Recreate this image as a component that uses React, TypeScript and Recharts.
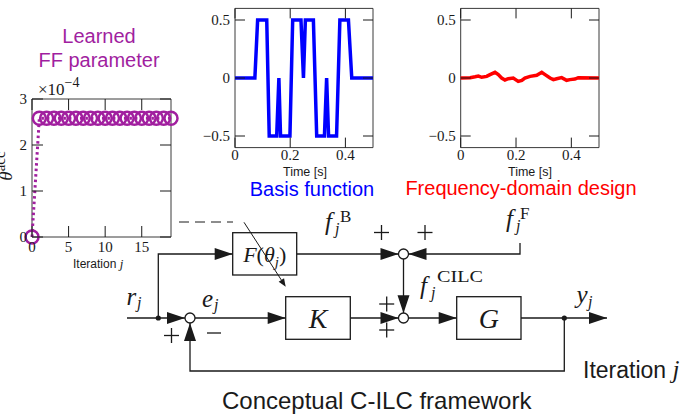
import React from 'react';
import { LineChart, Line, XAxis, YAxis, ReferenceArea } from 'recharts';

// learned feedforward parameter per iteration
const ITERATIONS = [0, 1, 2, 3, 4, 5, 6, 7, 8, 9, 10, 11, 12, 13, 14, 15, 16, 17, 18, 19];
const THETA_ACC = [
  0, 2.58e-4, 2.58e-4, 2.58e-4, 2.58e-4, 2.58e-4, 2.58e-4, 2.58e-4, 2.58e-4, 2.58e-4,
  2.58e-4, 2.58e-4, 2.58e-4, 2.58e-4, 2.58e-4, 2.58e-4, 2.58e-4, 2.58e-4, 2.58e-4, 2.58e-4,
];
const ITER_TICKS = [0, 5, 10, 15];
const THETA_TICKS = [0, 1e-4, 2e-4, 3e-4];

// basis function (time [s], amplitude)
const BASIS_TIME = [
  0, 0.072, 0.082, 0.115, 0.124, 0.151, 0.159, 0.165, 0.199, 0.209, 0.239, 0.248,
  0.255, 0.284, 0.296, 0.324, 0.332, 0.339, 0.368, 0.38, 0.411, 0.423, 0.5,
];
const BASIS_VALUE = [
  0, 0, 0.5, 0.5, -0.5, -0.5, 0, -0.5, -0.5, 0.5, 0.5, 0,
  0.5, 0.5, -0.5, -0.5, 0, -0.5, -0.5, 0.5, 0.5, 0, 0,
];

// frequency-domain design feedforward signal
const FREQ_TIME = [
  0, 0.034, 0.052, 0.064, 0.076, 0.094, 0.106, 0.124, 0.136, 0.148, 0.16, 0.172,
  0.19, 0.208, 0.221, 0.232, 0.251, 0.275, 0.293, 0.305, 0.323, 0.335, 0.347,
  0.365, 0.383, 0.395, 0.413, 0.425, 0.5,
];
const FREQ_VALUE = [
  0, 0.003, 0.011, 0.017, 0.006, 0.014, 0.029, 0.049, 0.029, 0, -0.017, -0.006,
  0, -0.029, -0.02, 0, 0.014, 0.023, 0.049, 0.029, 0, -0.014, -0.006,
  0.003, -0.02, -0.014, -0.009, 0.003, 0,
];

const TIME_TICKS = [0, 0.2, 0.4];
const AMP_TICKS = [-0.5, 0, 0.5];

const ffData = ITERATIONS.map((j, i) => ({ j, theta: THETA_ACC[i] }));
const basisData = BASIS_TIME.map((t, i) => ({ t, v: BASIS_VALUE[i] }));
const freqData = FREQ_TIME.map((t, i) => ({ t, v: FREQ_VALUE[i] }));

const INK = '#1a1a1a';
const FRAME = '#3a3a3a';
const PURPLE = '#a11f9f';
const BLUE = '#0000ff';
const RED = '#ff0000';
const SERIF = '"Liberation Serif", "Times New Roman", serif';
const SANS = '"Liberation Sans", Arial, Helvetica, sans-serif';

type Box = {
  left: number;
  top: number;
  width: number;
  height: number;
  px0: number;
  px1: number;
  py0: number;
  py1: number;
};

const FF_BOX: Box = { left: 0, top: 80, width: 200, height: 200, px0: 32, px1: 171, py0: 99, py1: 237 };
const BASIS_BOX: Box = { left: 190, top: 0, width: 200, height: 200, px0: 235, px1: 373, py0: 8.4, py1: 147.6 };
const FREQ_BOX: Box = { left: 400, top: 0, width: 250, height: 200, px0: 460.7, px1: 599, py0: 8.4, py1: 147.6 };

const AXIS_SPACE = 20;

function marginsOf(b: Box) {
  return {
    left: b.px0 - b.left - AXIS_SPACE,
    right: b.left + b.width - b.px1,
    top: b.py0 - b.top,
    bottom: b.top + b.height - b.py1 - AXIS_SPACE,
  };
}

const fmtAmp = (v: number) => (v === 0 ? '0' : (v < 0 ? '\u2212' : '') + String(Math.abs(v)));
const fmtTheta = (v: number) => String(Math.round(v * 1e4));
const fmtPlain = (v: number) => String(v);

function xTick(b: Box, len: number, fmt: (v: number) => string, dy: number) {
  const top = b.py0 - b.top;
  const bottom = b.py1 - b.top;
  return (props: any) => {
    const x = props.x;
    return (
      <g>
        <line x1={x} x2={x} y1={bottom} y2={bottom - len} stroke={INK} strokeWidth={1} />
        <line x1={x} x2={x} y1={top} y2={top + len} stroke={INK} strokeWidth={1} />
        <text x={x} y={bottom + dy} textAnchor="middle" fontFamily={SERIF} fontSize={15} fill={INK}>
          {fmt(props.payload.value)}
        </text>
      </g>
    );
  };
}

function yTick(b: Box, len: number, fmt: (v: number) => string) {
  const left = b.px0 - b.left;
  const right = b.px1 - b.left;
  return (props: any) => {
    const y = props.y;
    return (
      <g>
        <line x1={left} x2={left + len} y1={y} y2={y} stroke={INK} strokeWidth={1} />
        <line x1={right} x2={right - len} y1={y} y2={y} stroke={INK} strokeWidth={1} />
        <text x={left - 5} y={y + 5} textAnchor="end" fontFamily={SERIF} fontSize={15} fill={INK}>
          {fmt(props.payload.value)}
        </text>
      </g>
    );
  };
}

function SignalPanel({ box, data, color }: { box: Box; data: { t: number; v: number }[]; color: string }) {
  return (
    <div style={{ position: 'absolute', left: box.left, top: box.top }}>
      <LineChart width={box.width} height={box.height} data={data} margin={marginsOf(box)}>
        <XAxis
          dataKey="t"
          type="number"
          domain={[0, 0.5]}
          ticks={TIME_TICKS}
          interval={0}
          height={AXIS_SPACE}
          tickSize={0}
          tickLine={false}
          axisLine={false}
          tick={xTick(box, 10, fmtPlain, 12.5)}
        />
        <YAxis
          type="number"
          domain={[-0.6, 0.6]}
          ticks={AMP_TICKS}
          interval={0}
          width={AXIS_SPACE}
          tickSize={0}
          tickLine={false}
          axisLine={false}
          tick={yTick(box, 10, fmtAmp)}
        />
        <ReferenceArea x1={0} x2={0.5} y1={-0.6} y2={0.6} fill="none" stroke={FRAME} strokeWidth={1} />
        <Line
          dataKey="v"
          type="linear"
          stroke={color}
          strokeWidth={3.5}
          dot={false}
          isAnimationActive={false}
        />
      </LineChart>
    </div>
  );
}

function FFPanel() {
  const box = FF_BOX;
  return (
    <div style={{ position: 'absolute', left: box.left, top: box.top }}>
      <LineChart width={box.width} height={box.height} data={ffData} margin={marginsOf(box)}>
        <XAxis
          dataKey="j"
          type="number"
          domain={[0, 19]}
          ticks={ITER_TICKS}
          interval={0}
          height={AXIS_SPACE}
          tickSize={0}
          tickLine={false}
          axisLine={false}
          tick={xTick(box, 11, fmtPlain, 14.5)}
        />
        <YAxis
          type="number"
          domain={[0, 3e-4]}
          ticks={THETA_TICKS}
          interval={0}
          width={AXIS_SPACE}
          tickSize={0}
          tickLine={false}
          axisLine={false}
          tick={yTick(box, 11, fmtTheta)}
        />
        <ReferenceArea x1={0} x2={19} y1={0} y2={3e-4} fill="none" stroke={FRAME} strokeWidth={1} />
        <Line
          dataKey="theta"
          type="linear"
          stroke={PURPLE}
          strokeWidth={3}
          strokeDasharray="2.5 3"
          dot={{ r: 6.5, stroke: PURPLE, strokeWidth: 2.5, fill: 'none', strokeDasharray: '' }}
          isAnimationActive={false}
        />
      </LineChart>
    </div>
  );
}

type Dir = 'r' | 'l' | 'u' | 'd';

function Head({ x, y, dir, len = 18, half = 6 }: { x: number; y: number; dir: Dir; len?: number; half?: number }) {
  let pts = '';
  if (dir === 'r') pts = `${x},${y} ${x - len},${y - half} ${x - len},${y + half}`;
  if (dir === 'l') pts = `${x},${y} ${x + len},${y - half} ${x + len},${y + half}`;
  if (dir === 'd') pts = `${x},${y} ${x - half},${y - len} ${x + half},${y - len}`;
  if (dir === 'u') pts = `${x},${y} ${x - half},${y + len} ${x + half},${y + len}`;
  return <polygon points={pts} fill={INK} />;
}

function Plus({ x, y, s = 7.5 }: { x: number; y: number; s?: number }) {
  return (
    <g stroke={INK} strokeWidth={1.3}>
      <line x1={x - s} x2={x + s} y1={y} y2={y} />
      <line x1={x} x2={x} y1={y - s} y2={y + s} />
    </g>
  );
}

function Diagram() {
  const sw = 1.3;
  // diagonal "learning" arrow through F
  const ax0 = 244, ay0 = 222.3, ax1 = 285.7, ay1 = 286.7;
  const dl = Math.hypot(ax1 - ax0, ay1 - ay0);
  const ux = (ax1 - ax0) / dl, uy = (ay1 - ay0) / dl;
  const hl = 8, hw = 3.2;
  const diagHead = `${ax1},${ay1} ${ax1 - ux * hl - uy * hw},${ay1 - uy * hl + ux * hw} ${ax1 - ux * hl + uy * hw},${ay1 - uy * hl - ux * hw}`;

  return (
    <svg
      width={690}
      height={416}
      style={{ position: 'absolute', left: 0, top: 0, overflow: 'visible', pointerEvents: 'none' }}
    >
      {/* chart titles and axis labels */}
      <text x={99} y={43} textAnchor="middle" fontFamily={SANS} fontSize={20} fill={PURPLE}>Learned</text>
      <text x={99} y={67} textAnchor="middle" fontFamily={SANS} fontSize={20} fill={PURPLE}>FF parameter</text>
      <text x={38} y={95} fontFamily={SERIF} fontSize={17} fill={INK}>
        ×10<tspan dy={-8} fontSize={14}>−4</tspan>
      </text>
      <text transform="translate(12,166) rotate(-90)" textAnchor="middle" fontFamily={SERIF} fontSize={19} fill={INK}>
        <tspan fontStyle="italic">θ</tspan>
        <tspan dy={-7} fontSize={15}>acc</tspan>
      </text>
      <text x={73} y={268} fontFamily={SANS} fontSize={12} fill={INK}>
        Iteration <tspan fontFamily={SERIF} fontStyle="italic" fontSize={13}>j</tspan>
      </text>
      <text x={305} y={176} textAnchor="middle" fontFamily={SANS} fontSize={12.5} fill={INK}>Time [s]</text>
      <text x={530} y={176} textAnchor="middle" fontFamily={SANS} fontSize={12.5} fill={INK}>Time [s]</text>
      <text x={312} y={196} textAnchor="middle" fontFamily={SANS} fontSize={20} fill={BLUE}>Basis function</text>
      <text x={521} y={195} textAnchor="middle" fontFamily={SANS} fontSize={20} fill={RED}>Frequency-domain design</text>

      {/* block diagram wiring */}
      <g stroke={INK} strokeWidth={sw} fill="none">
        <line x1={127} y1={318} x2={185} y2={318} />
        <polyline points="158.3,318 158.3,254 232.7,254" />
        <line x1={296.7} y1={254} x2={398.5} y2={254} />
        <polyline points="520,243 520,254 408.5,254" />
        <line x1={403.5} y1={259} x2={403.5} y2={313.3} />
        <line x1={195} y1={318} x2={285.7} y2={318} />
        <line x1={350.3} y1={318} x2={398.5} y2={318} />
        <line x1={408.5} y1={318} x2={456.7} y2={318} />
        <line x1={521} y1={318} x2={607} y2={318} />
        <polyline points="564.3,318 564.3,371 190,371 190,323" />
        <line x1={179} y1={222} x2={233} y2={222} strokeDasharray="10 6" strokeWidth={1} />
      </g>
      <circle cx={158.3} cy={318} r={2.6} fill={INK} />
      <circle cx={564.3} cy={318} r={2.6} fill={INK} />

      <rect x={232.7} y={232.7} width={64} height={42.3} fill="#fff" stroke={INK} strokeWidth={sw} />
      <rect x={285.7} y={296.7} width={64.6} height={42.6} fill="#fff" stroke={INK} strokeWidth={sw} />
      <rect x={456.7} y={296.7} width={64.3} height={42.6} fill="#fff" stroke={INK} strokeWidth={sw} />

      <line x1={ax0} y1={ay0} x2={ax1 - ux * hl} y2={ay1 - uy * hl} stroke={INK} strokeWidth={1} />
      <polygon points={diagHead} fill={INK} />

      <circle cx={190} cy={318} r={5} fill="#fff" stroke={INK} strokeWidth={sw} />
      <circle cx={403.5} cy={254} r={5} fill="#fff" stroke={INK} strokeWidth={sw} />
      <circle cx={403.5} cy={318} r={5} fill="#fff" stroke={INK} strokeWidth={sw} />

      <Head x={185} y={318} dir="r" />
      <Head x={232.7} y={254} dir="r" />
      <Head x={398.5} y={254} dir="r" />
      <Head x={408.5} y={254} dir="l" />
      <Head x={403.5} y={313.3} dir="d" />
      <Head x={285.7} y={318} dir="r" />
      <Head x={398.5} y={318} dir="r" />
      <Head x={456.7} y={318} dir="r" />
      <Head x={607} y={318} dir="r" />
      <Head x={190} y={323} dir="u" />

      <Plus x={381.5} y={232.5} />
      <Plus x={425} y={232.5} />
      <Plus x={386.7} y={304} />
      <Plus x={386.7} y={330} />
      <Plus x={171.5} y={335.5} />
      <line x1={207} x2={221} y1={333} y2={333} stroke={INK} strokeWidth={1.3} />

      {/* block labels */}
      <text x={264.7} y={262} textAnchor="middle" fontFamily={SERIF} fontSize={22} fill={INK}>
        <tspan fontStyle="italic">F</tspan>(<tspan fontStyle="italic">θ</tspan>
        <tspan fontStyle="italic" fontSize={15} dy={5}>j</tspan>
        <tspan dy={-5}>)</tspan>
      </text>
      <text x={318} y={328} textAnchor="middle" fontFamily={SERIF} fontStyle="italic" fontSize={28} fill={INK}>K</text>
      <text x={488.8} y={328} textAnchor="middle" fontFamily={SERIF} fontStyle="italic" fontSize={28} fill={INK}>G</text>

      {/* signal labels */}
      <g fontFamily={SERIF} fill={INK}>
        <text x={325} y={230} fontStyle="italic" fontSize={25}>f</text>
        <text x={335} y={234} fontStyle="italic" fontSize={16}>j</text>
        <text x={340} y={222} fontSize={17}>B</text>

        <text x={506} y={227} fontStyle="italic" fontSize={25}>f</text>
        <text x={516} y={231} fontStyle="italic" fontSize={16}>j</text>
        <text x={520} y={219} fontSize={17}>F</text>

        <text x={420} y={294} fontStyle="italic" fontSize={25}>f</text>
        <text x={431} y={298} fontStyle="italic" fontSize={16}>j</text>
        <text x={437} y={282} fontSize={17} textLength={46} lengthAdjust="spacingAndGlyphs">CILC</text>

        <text x={126.5} y={305} fontStyle="italic" fontSize={25}>r</text>
        <text x={137} y={308} fontStyle="italic" fontSize={16}>j</text>

        <text x={202} y={307} fontStyle="italic" fontSize={25}>e</text>
        <text x={214} y={310} fontStyle="italic" fontSize={16}>j</text>

        <text x={576.5} y={303} fontStyle="italic" fontSize={25}>y</text>
        <text x={588} y={307} fontStyle="italic" fontSize={16}>j</text>
      </g>

      <text x={583} y={378} fontFamily={SANS} fontSize={23} fill={INK}>
        Iteration <tspan fontFamily={SERIF} fontStyle="italic" fontSize={25}>j</tspan>
      </text>
      <text x={376.7} y={409} textAnchor="middle" fontFamily={SANS} fontSize={24} fill={INK}>
        Conceptual C-ILC framework
      </text>
    </svg>
  );
}

export default function App() {
  return (
    <div
      style={{
        position: 'absolute',
        left: 0,
        top: 0,
        width: 690,
        height: 416,
        background: '#fff',
        overflow: 'hidden',
      }}
    >
      <FFPanel />
      <SignalPanel box={BASIS_BOX} data={basisData} color={BLUE} />
      <SignalPanel box={FREQ_BOX} data={freqData} color={RED} />
      <Diagram />
    </div>
  );
}
